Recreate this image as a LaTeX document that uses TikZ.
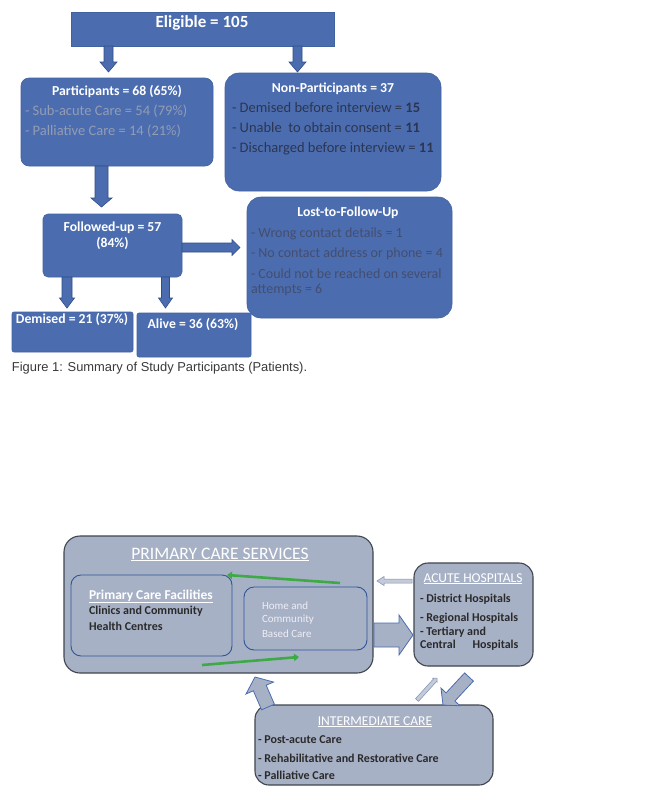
\documentclass[tikz,border=0pt]{standalone}
\usepackage{fontspec}
\setmainfont{Carlito}
\newfontfamily\capfont{Liberation Sans}
\usetikzlibrary{calc,arrows.meta}
\definecolor{bblue}{HTML}{4B6DAF}
\definecolor{bblueline}{HTML}{42629F}
\definecolor{arrline}{HTML}{2F4F8A}
\definecolor{partitem}{HTML}{939CB3}
\definecolor{nonitem}{HTML}{2C3552}
\definecolor{lostitem}{HTML}{434E70}
\definecolor{gfill}{HTML}{A7B1C6}
\definecolor{gline}{HTML}{40454F}
\definecolor{iline}{HTML}{2F5597}
\definecolor{gtext}{HTML}{2A2A2A}
\definecolor{hctext}{HTML}{EEEEF3}
\definecolor{hgreen}{HTML}{3DAA45}
\definecolor{thinfill}{HTML}{C3CAD8}
\definecolor{thinline}{HTML}{8190B2}
\definecolor{captext}{HTML}{3A3A3A}

\newcommand\blockarrow[6]{%
 \pgfpointdiff{\pgfpointanchor{#2}{center}}{\pgfpointanchor{#3}{center}}%
 \pgfgetlastxy{\badx}{\bady}%
 \pgfmathsetmacro\balen{veclen(\badx,\bady)}%
 \pgfmathsetmacro\baang{atan2(\bady,\badx)}%
 \begin{scope}[shift={(#2)}, rotate=\baang, x=1pt, y=1pt]
  \draw[#1] (0,{-(#4)/2}) -- ({\balen-(#6)},{-(#4)/2}) -- ({\balen-(#6)},{-(#5)/2}) -- (\balen,0) -- ({\balen-(#6)},{(#5)/2}) -- ({\balen-(#6)},{(#4)/2}) -- (0,{(#4)/2}) -- cycle;
 \end{scope}}

\tikzset{
 every node/.style={inner sep=0pt, outer sep=0pt},
 bluebox/.style={draw=bblueline, fill=bblue, line width=0.6pt},
 greybox/.style={draw=gline, fill=gfill, line width=1.1pt},
 innerbox/.style={draw=iline, line width=0.9pt},
 ttl/.style={anchor=base, text=white, font=\bfseries\fontsize{13.7}{16}\selectfont},
 pitem/.style={anchor=base west, text=partitem, font=\fontsize{14.5}{16}\selectfont},
 nitem/.style={anchor=base west, text=nonitem, font=\fontsize{14.5}{16}\selectfont},
 litem/.style={anchor=base west, text=lostitem, font=\fontsize{14}{16}\selectfont},
 bttl/.style={anchor=base, text=white, font=\fontsize{13.5}{15}\selectfont},
 bitem/.style={anchor=base west, text=gtext, font=\bfseries\fontsize{12}{14}\selectfont},
 hitem/.style={anchor=base west, text=hctext, font=\fontsize{11}{13}\selectfont},
 toparrow/.style={draw=arrline, fill=bblue, line width=0.6pt},
 botarrow/.style={draw=bblue, fill=gfill, line width=0.8pt},
 thinarrow/.style={draw=thinline, fill=thinfill, line width=0.5pt},
 garrow/.style={draw=hgreen, line width=2.6pt, -{Triangle[length=5pt,width=7.5pt]}},
}

\begin{document}
\begin{tikzpicture}[x=1pt,y=-1pt]
\useasboundingbox[fill=white] (0,0) rectangle (654,790);

% ---------- Figure 1 boxes ----------
\node[bluebox, minimum width=263pt, minimum height=34pt] (elig) at (202.5,29) {};
\node[bluebox, rounded corners=8pt, minimum width=192pt, minimum height=88pt] (part) at (117,122) {};
\node[bluebox, rounded corners=14pt, minimum width=216pt, minimum height=118pt] (non) at (333,132) {};
\node[bluebox, rounded corners=5pt, minimum width=139pt, minimum height=63pt] (fol) at (112.5,245.5) {};
\node[bluebox, rounded corners=14pt, minimum width=205pt, minimum height=121pt] (lost) at (349.5,257.5) {};
\node[bluebox, rounded corners=2pt, minimum width=121pt, minimum height=40pt] (dem) at (72.5,332) {};
\node[bluebox, rounded corners=2pt, minimum width=114pt, minimum height=44pt] (alive) at (194,335) {};

% texts
\node[ttl, font=\bfseries\fontsize{17}{19}\selectfont] (eligT) at (202,27.5) {Eligible = 105};
\node[ttl] (partT) at (117,95.5) {Participants = 68 (65\%)};
\node[pitem] (partA) at (25,115.5) {- Sub-acute Care = 54 (79\%)};
\node[pitem] (partB) at (25,135) {- Palliative Care = 14 (21\%)};
\node[ttl] (nonT) at (333,92.5) {Non-Participants = 37};
\node[nitem] (nonA) at (232,112.5) {- Demised before interview = \textbf{15}};
\node[nitem] (nonB) at (232,132.5) {- Unable\ \ to obtain consent = \textbf{11}};
\node[nitem] (nonC) at (232,152.5) {- Discharged before interview = \textbf{11}};
\node[ttl] (lostT) at (348,216) {Lost-to-Follow-Up};
\node[litem] (lostA) at (251,237) {- Wrong contact details = 1};
\node[litem] (lostB) at (251,257) {- No contact address or phone = 4};
\node[litem] (lostC) at (251,278) {- Could not be reached on several};
\node[litem] (lostD) at (251,293.5) {attempts = 6};
\node[ttl] (folT) at (112.5,231) {Followed-up = 57};
\node[ttl] (folT2) at (112.5,247.5) {(84\%)};
\node[ttl] (demT) at (72,323.5) {Demised = 21 (37\%)};
\node[ttl] (aliveT) at (193,328) {Alive = 36 (63\%)};

\node[anchor=base west, text=captext, font=\capfont\fontsize{12.9}{14}\selectfont] (cap) at (12,371)
  {Figure 1: Summary of Study Participants (Patients).};

% arrows figure 1
\coordinate (a1s) at ($(elig.south)+(-94,0)$);
\coordinate (a1e) at ($(part.north)+(-8.5,-6)$);
\coordinate (a2s) at ($(elig.south)+(95,0)$);
\coordinate (a2e) at ($(non.north)+(-35.5,-1)$);
\coordinate (a3s) at ($(part.south)+(-15.5,0)$);
\coordinate (a3e) at ($(fol.north)+(-11,-7)$);
\coordinate (a4s) at ($(fol.east)+(0,2)$);
\coordinate (a4e) at ($(lost.west)+(-7,-10)$);
\coordinate (a5s) at ($(fol.south)+(-45.5,0)$);
\coordinate (a5e) at ($(dem.north)+(-5.5,-4)$);
\coordinate (a6s) at ($(fol.south)+(53,0)$);
\coordinate (a6e) at ($(alive.north)+(-28.5,-5)$);
\blockarrow{toparrow}{a1s}{a1e}{9}{17}{10}
\blockarrow{toparrow}{a2s}{a2e}{9}{17}{10}
\blockarrow{toparrow}{a3s}{a3e}{13}{21}{9}
\blockarrow{toparrow}{a4s}{a4e}{9}{16}{8}
\blockarrow{toparrow}{a5s}{a5e}{10}{15}{10}
\blockarrow{toparrow}{a6s}{a6e}{8}{14}{10}

% ---------- Second diagram ----------
\node[greybox, rounded corners=16pt, minimum width=309pt, minimum height=137pt] (prim) at (218.5,604.5) {};
\node[innerbox, rounded corners=10pt, minimum width=161pt, minimum height=81pt] (pcf) at (151.5,615.5) {};
\node[innerbox, rounded corners=10pt, minimum width=123pt, minimum height=63pt] (hcbc) at (305.5,618.5) {};
\node[greybox, rounded corners=14pt, minimum width=119pt, minimum height=103pt] (acute) at (473.5,614.5) {};
\node[greybox, rounded corners=14pt, minimum width=238pt, minimum height=80pt] (inter) at (374,745) {};

\node[bttl, font=\fontsize{17.5}{19}\selectfont] (primT) at (220,559) {\underline{PRIMARY CARE SERVICES}};
\node[anchor=base west, text=white, font=\bfseries\fontsize{13.5}{15}\selectfont] (pcfT) at (89,599) {\underline{Primary Care Facilities}};
\node[bitem] (pcfA) at (89,614.5) {Clinics and Community};
\node[bitem] (pcfB) at (89,630) {Health Centres};
\node[hitem] (hcA) at (262,609) {Home and};
\node[hitem] (hcB) at (262,622) {Community};
\node[hitem] (hcC) at (262,637) {Based Care};
\node[bttl] (acuteT) at (473,582) {\underline{ACUTE HOSPITALS}};
\node[bitem] (acuteA) at (420,602) {- District Hospitals};
\node[bitem] (acuteB) at (420,621) {- Regional Hospitals};
\node[bitem] (acuteC) at (420,635) {- Tertiary and};
\node[bitem] (acuteD) at (420,648) {Central\hspace{1.4em}Hospitals};
\node[bttl] (interT) at (375,725) {\underline{INTERMEDIATE CARE}};
\node[bitem] (interA) at (258,743) {- Post-acute Care};
\node[bitem] (interB) at (258,762) {- Rehabilitative and Restorative Care};
\node[bitem] (interC) at (258,779) {- Palliative Care};

% arrows second diagram
\coordinate (b1s) at ($(acute.west)+(-2,-33.5)$);
\coordinate (b1e) at ($(prim.east)+(4,-23.5)$);
\coordinate (b2s) at ($(prim.east)+(1,30.5)$);
\coordinate (b2e) at ($(acute.west)+(-1,20.5)$);
\coordinate (b3s) at ($(inter.north west)+(13,2)$);
\coordinate (b3e) at ($(prim.south)+(36.5,4)$);
\coordinate (b4s) at ($(inter.north)+(43,-5)$);
\coordinate (b4e) at ($(acute.south)+(-36.5,12)$);
\coordinate (b5s) at ($(acute.south)+(-4.5,11)$);
\coordinate (b5e) at ($(inter.north)+(69,0)$);
\blockarrow{thinarrow}{b1s}{b1e}{4}{9}{7}
\blockarrow{botarrow}{b2s}{b2e}{24}{40}{14}
\blockarrow{botarrow}{b3s}{b3e}{14}{30}{12}
\blockarrow{thinarrow}{b4s}{b4e}{4}{6}{3}
\blockarrow{botarrow}{b5s}{b5e}{12}{26}{11}

\coordinate (g1s) at ($(hcbc.north east)+(-27,-4)$);
\coordinate (g1e) at ($(pcf.north east)+(-5,0)$);
\coordinate (g2s) at ($(pcf.south east)+(-30,9)$);
\coordinate (g2e) at ($(hcbc.south west)+(55,7)$);
\draw[garrow] (g1s) -- (g1e);
\draw[garrow] (g2s) -- (g2e);
\end{tikzpicture}
\end{document}
